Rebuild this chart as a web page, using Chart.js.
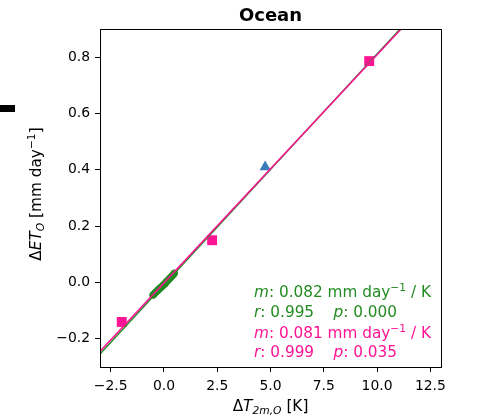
<!DOCTYPE html>
<html>
<head>
<meta charset="utf-8">
<script src="https://cdn.jsdelivr.net/npm/chart.js@4.4.1/dist/chart.umd.min.js"></script>
<style>
  html, body { margin: 0; padding: 0; background: #fff; }
  #wrap { position: relative; width: 477px; height: 419px; }
  #mark { position: absolute; left: 0; top: 105px; width: 15px; height: 7px; background: #000; }
</style>
</head>
<body>
<div id="wrap">
  <canvas id="c"></canvas>
  <div id="mark"></div>
</div>
<script>
// ---- data ----
const xTicks = [-2.5, 0.0, 2.5, 5.0, 7.5, 10.0, 12.5];
const yTicks = [-0.2, 0.0, 0.2, 0.4, 0.6, 0.8];

const greenX = [-0.52, -0.46, -0.41, -0.36, -0.30, -0.25, -0.20, -0.15, -0.10, -0.05, 0.00, 0.05, 0.10, 0.14, 0.19, 0.24, 0.29, 0.34, 0.39, 0.44, 0.49];
const greenY = [-0.045, -0.041, -0.036, -0.033, -0.029, -0.024, -0.022, -0.017, -0.015, -0.011, -0.007, -0.004, 0.001, 0.004, 0.008, 0.012, 0.016, 0.020, 0.024, 0.028, 0.033];

const blueX = [4.75];
const blueY = [0.41];

const pinkX = [-1.98, 2.26, 9.63];
const pinkY = [-0.14, 0.15, 0.786];

const greenFitX = [-3, 13];
const greenFitY = [-0.254, 1.057];
const pinkFitX = [-3, 13];
const pinkFitY = [-0.2445, 1.0515];

const annotationLines = [
  { color: '#228B22', segs: [{t: 'm', it: true}, {t: ': 0.082 mm day'}, {t: '\u22121', sup: true}, {t: ' / K'}] },
  { color: '#228B22', segs: [{t: 'r', it: true}, {t: ': 0.995    '}, {t: 'p', it: true}, {t: ': 0.000'}] },
  { color: '#FF1493', segs: [{t: 'm', it: true}, {t: ': 0.081 mm day'}, {t: '\u22121', sup: true}, {t: ' / K'}] },
  { color: '#FF1493', segs: [{t: 'r', it: true}, {t: ': 0.999    '}, {t: 'p', it: true}, {t: ': 0.035'}] }
];

const titleText = 'Ocean';
const xLabelSegs = [{t: '\u0394'}, {t: 'T', it: true}, {t: '2m,O', it: true, sub: true}, {t: ' [K]'}];
const yLabelSegs = [{t: '\u0394'}, {t: 'ET', it: true}, {t: 'O', it: true, sub: true}, {t: ' [mm day'}, {t: '\u22121', sup: true}, {t: ']'}];

const toPts = (xs, ys) => xs.map((x, i) => ({x: x, y: ys[i]}));
const FONT = '"DejaVu Sans", sans-serif';

function segFont(s, size) {
  const sz = (s.sup || s.sub) ? size * 0.7 : size;
  return (s.it ? 'italic ' : '') + sz + 'px ' + FONT;
}
function richWidth(ctx, segs, size) {
  let w = 0;
  segs.forEach(s => { ctx.font = segFont(s, size); w += ctx.measureText(s.t).width; });
  return w;
}
function drawRich(ctx, segs, x, y, size, color, align) {
  ctx.save();
  ctx.fillStyle = color;
  ctx.textBaseline = 'alphabetic';
  ctx.textAlign = 'left';
  let cx = x;
  if (align === 'center') cx = x - richWidth(ctx, segs, size) / 2;
  segs.forEach(s => {
    ctx.font = segFont(s, size);
    let dy = 0;
    if (s.sup) dy = -0.42 * size;
    if (s.sub) dy = 0.22 * size;
    ctx.fillText(s.t, cx, y + dy);
    cx += ctx.measureText(s.t).width;
  });
  ctx.restore();
}

const decor = {
  id: 'decor',
  afterDraw(chart) {
    const ctx = chart.ctx;
    const a = chart.chartArea;
    // frame
    ctx.save();
    ctx.strokeStyle = '#000';
    ctx.lineWidth = 1;
    ctx.strokeRect(Math.round(a.left) + 0.5, Math.round(a.top) + 0.5,
                   Math.round(a.right - a.left), Math.round(a.bottom - a.top));
    ctx.restore();
    const cxm = (a.left + a.right) / 2;
    // title
    ctx.save();
    ctx.font = 'bold 18px ' + FONT;
    ctx.fillStyle = '#000';
    ctx.textAlign = 'center';
    ctx.textBaseline = 'alphabetic';
    ctx.fillText(titleText, cxm, 20.5);
    ctx.restore();
    // x label
    drawRich(ctx, xLabelSegs, cxm, 411, 15.3, '#000', 'center');
    // y label
    ctx.save();
    ctx.translate(41, (a.top + a.bottom) / 2 - 4);
    ctx.rotate(-Math.PI / 2);
    drawRich(ctx, yLabelSegs, 0, 0, 15.3, '#000', 'center');
    ctx.restore();
    // annotation
    const ax = 254;
    const baseY = [297, 317, 338, 357];
    annotationLines.forEach((ln, i) => drawRich(ctx, ln.segs, ax, baseY[i], 15.3, ln.color, 'left'));
  }
};

const fmt = v => v.toFixed(1).replace('-', '\u2212');

new Chart(document.getElementById('c'), {
  type: 'scatter',
  data: {
    datasets: [
      { type: 'line', data: toPts(pinkFitX, pinkFitY), borderColor: '#FF1493', borderWidth: 1.5, pointRadius: 0, fill: false, order: 0 },
      { type: 'line', data: toPts(greenFitX, greenFitY), borderColor: '#228B22', borderWidth: 1.5, pointRadius: 0, fill: false, order: 1 },
      { data: toPts(pinkX, pinkY), pointStyle: 'rect', pointRadius: 7, backgroundColor: '#FF1493', borderColor: '#FF1493', borderWidth: 0, order: 2 },
      { data: toPts(blueX, blueY), pointStyle: 'triangle', pointRadius: 6.5, backgroundColor: '#3C7CBA', borderColor: '#3C7CBA', borderWidth: 0, order: 3 },
      { data: toPts(greenX, greenY), pointStyle: 'circle', pointRadius: 3.6, backgroundColor: '#228B22', borderColor: '#228B22', borderWidth: 0, order: 4 }
    ]
  },
  options: {
    responsive: true,
    maintainAspectRatio: false,
    animation: false,
    devicePixelRatio: 1,
    layout: { padding: { left: 0, top: 29, right: 36, bottom: 0 } },
    plugins: { legend: { display: false }, tooltip: { enabled: false }, title: { display: false } },
    scales: {
      x: {
        type: 'linear', min: -3, max: 13,
        afterFit(s) { s.height = 52; },
        afterBuildTicks(s) { s.ticks = xTicks.map(v => ({value: v})); },
        grid: { display: true, drawOnChartArea: false, drawTicks: true, tickLength: 5, color: '#000', lineWidth: 1 },
        border: { display: false },
        ticks: { color: '#000', font: { family: FONT, size: 13.9 }, padding: 6, maxRotation: 0, autoSkip: false, callback: v => fmt(v) }
      },
      y: {
        type: 'linear', min: -0.3, max: 0.9,
        afterFit(s) { s.width = 100; },
        afterBuildTicks(s) { s.ticks = yTicks.map(v => ({value: v})); },
        grid: { display: true, drawOnChartArea: false, drawTicks: true, tickLength: 5, color: '#000', lineWidth: 1 },
        border: { display: false },
        ticks: { color: '#000', font: { family: FONT, size: 13.9 }, padding: 5, autoSkip: false, callback: v => fmt(v) }
      }
    }
  },
  plugins: [decor]
});
</script>
</body>
</html>
